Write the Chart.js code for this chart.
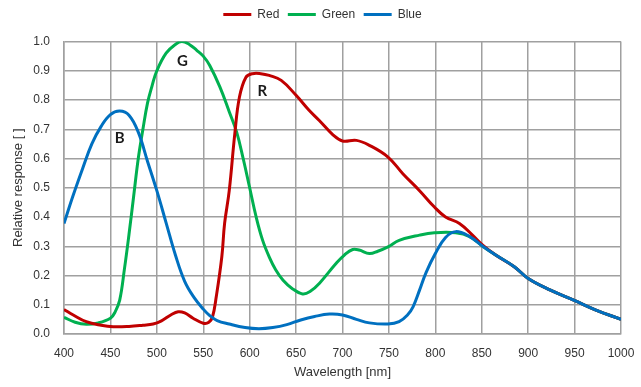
<!DOCTYPE html>
<html>
<head>
<meta charset="utf-8">
<script src="https://cdn.jsdelivr.net/npm/chart.js@4.4.1/dist/chart.umd.min.js"></script>
<style>
  html, body { margin: 0; padding: 0; background: #fff; }
  #wrap { width: 641px; height: 387px; }
</style>
</head>
<body>
<div id="wrap"><canvas id="grafico" width="641" height="387"></canvas></div>
<script>
// valores
const redNm = [400, 410, 424, 440, 453, 470, 485, 496, 505, 515, 523, 530, 539, 550, 556, 560, 564, 570, 573, 578, 584, 589, 596, 603, 612, 621, 634, 650, 664, 675, 690, 700, 715, 729, 749, 765, 783, 799, 811, 826, 840, 851, 865, 885, 900, 924, 949, 973, 1000];
const redVal = [0.084, 0.065, 0.042, 0.03, 0.025, 0.026, 0.03, 0.034, 0.045, 0.065, 0.076, 0.072, 0.054, 0.037, 0.04, 0.059, 0.127, 0.264, 0.378, 0.49, 0.685, 0.81, 0.878, 0.89, 0.89, 0.884, 0.867, 0.816, 0.765, 0.73, 0.68, 0.66, 0.662, 0.645, 0.605, 0.548, 0.49, 0.434, 0.40, 0.378, 0.338, 0.304, 0.27, 0.23, 0.19, 0.15, 0.116, 0.082, 0.05];

const greenNm = [400, 412, 424, 437, 450, 455, 460, 465, 470, 475, 480, 485, 490, 495, 500, 510, 520, 527, 535, 543, 550, 557, 568, 578, 586, 593, 600, 607, 614, 621, 628, 636, 646, 657, 665, 675, 693, 702, 711, 718, 729, 738, 749, 761, 783, 799, 822, 837, 851, 865, 885, 900, 924, 949, 973, 1000];
const greenVal = [0.057, 0.04, 0.033, 0.038, 0.054, 0.075, 0.116, 0.22, 0.34, 0.47, 0.6, 0.7, 0.79, 0.85, 0.9, 0.96, 0.99, 1.0, 0.99, 0.97, 0.95, 0.918, 0.844, 0.76, 0.69, 0.6, 0.5, 0.4, 0.32, 0.264, 0.22, 0.184, 0.155, 0.137, 0.145, 0.173, 0.241, 0.27, 0.289, 0.287, 0.275, 0.283, 0.298, 0.32, 0.338, 0.346, 0.346, 0.333, 0.30, 0.27, 0.23, 0.19, 0.15, 0.116, 0.082, 0.05];

const blueNm = [400, 410, 420, 430, 440, 450, 460, 470, 480, 490, 500, 510, 520, 530, 540, 550, 557, 565, 578, 595, 610, 625, 640, 655, 670, 686, 700, 715, 729, 749, 761, 770, 776, 783, 790, 800, 811, 822, 837, 851, 865, 885, 900, 924, 949, 973, 1000];
const blueVal = [0.378, 0.475, 0.565, 0.65, 0.71, 0.75, 0.762, 0.748, 0.69, 0.59, 0.49, 0.38, 0.27, 0.18, 0.125, 0.085, 0.063, 0.046, 0.034, 0.022, 0.018, 0.022, 0.032, 0.048, 0.06, 0.068, 0.065, 0.05, 0.038, 0.034, 0.042, 0.065, 0.093, 0.15, 0.21, 0.275, 0.33, 0.35, 0.333, 0.30, 0.27, 0.23, 0.19, 0.15, 0.116, 0.082, 0.05];

const xTicks = [400, 450, 500, 550, 600, 650, 700, 750, 800, 850, 900, 950, 1000];
const yTicks = [0, 0.1, 0.2, 0.3, 0.4, 0.5, 0.6, 0.7, 0.8, 0.9, 1.0];

// letras sobre las curvas: [texto, nm, valor]
const etiquetas = [['B', 460, 0.671], ['G', 527.5, 0.932], ['R', 613.5, 0.83]];

const puntos = (xs, ys) => xs.map((x, i) => ({ x: x, y: ys[i] }));

const fuente = "'Liberation Sans', Arial, sans-serif";
const gris = '#a0a0a0';
const texto = '#333';

const letrasPlugin = {
    id: 'letras',
    afterDatasetsDraw(chart) {
        const { ctx, scales } = chart;
        ctx.save();
        ctx.font = "bold 15px Lato, 'Open Sans', sans-serif";
        ctx.fillStyle = '#1a1a1a';
        ctx.textAlign = 'center';
        ctx.textBaseline = 'middle';
        etiquetas.forEach(([t, nm, v]) => {
            ctx.fillText(t, scales.x.getPixelForValue(nm), scales.y.getPixelForValue(v));
        });
        ctx.restore();
    }
};

const serie = (label, xs, ys, color, order) => ({
    label: label,
    data: puntos(xs, ys),
    borderColor: color,
    backgroundColor: color,
    borderWidth: 3,
    pointRadius: 0,
    tension: 0.4,
    fill: false,
    order: order
});

new Chart(document.getElementById('grafico'), {
    type: 'line',
    data: {
        datasets: [
            serie('Red', redNm, redVal, '#c00000', 2),
            serie('Green', greenNm, greenVal, '#00b050', 3),
            serie('Blue', blueNm, blueVal, '#0070c0', 1)
        ]
    },
    options: {
        responsive: false,
        animation: false,
        layout: { padding: { left: 24, right: 20, top: 0, bottom: 0 } },
        plugins: {
            tooltip: { enabled: false },
            legend: {
                position: 'top',
                labels: {
                    usePointStyle: true,
                    pointStyle: 'line',
                    pointStyleWidth: 28,
                    padding: 8.5,
                    color: texto,
                    font: { family: fuente, size: 12 },
                    sort: (a, b) => a.datasetIndex - b.datasetIndex
                }
            }
        },
        scales: {
            x: {
                type: 'linear',
                min: 400,
                max: 1000,
                afterBuildTicks: s => { s.ticks = xTicks.map(v => ({ value: v })); },
                afterFit: s => { s.height = 53; s.paddingLeft = 0; s.paddingRight = 0; },
                grid: { color: gris, lineWidth: 1.5, drawTicks: false },
                border: { color: gris, width: 1.5 },
                ticks: { padding: 12, color: texto, font: { family: fuente, size: 12 }, maxRotation: 0, autoSkip: false, callback: v => String(v) },
                title: { display: true, text: 'Wavelength [nm]', color: texto, font: { family: fuente, size: 13 }, padding: { top: 0, bottom: 7 } }
            },
            arriba: {
                type: 'linear',
                position: 'top',
                display: true,
                grid: { display: false },
                border: { display: false },
                ticks: { display: false },
                afterFit: s => { s.height = 11; s.paddingLeft = 0; s.paddingRight = 0; }
            },
            y: {
                min: 0,
                max: 1,
                afterBuildTicks: s => { s.ticks = yTicks.map(v => ({ value: v })); },
                afterFit: s => { s.width = 40; },
                grid: { color: gris, lineWidth: 1.5, drawTicks: false },
                border: { color: gris, width: 1.5 },
                ticks: { padding: 14, color: texto, font: { family: fuente, size: 12 }, callback: v => v.toFixed(1) },
                title: { display: true, text: 'Relative response [ ]', color: texto, font: { family: fuente, size: 13 }, padding: { top: -13.8, bottom: 0 } }
            }
        }
    },
    plugins: [letrasPlugin]
});
</script>
</body>
</html>
